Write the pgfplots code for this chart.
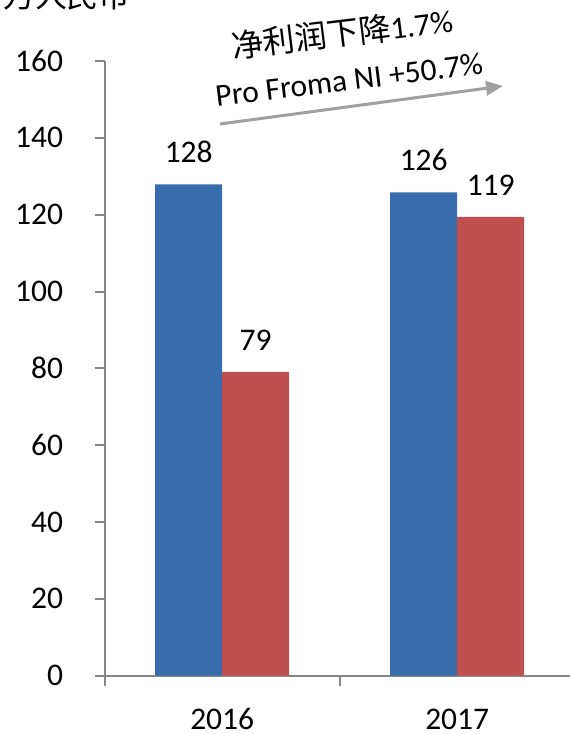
\documentclass[border=0pt]{standalone}
\usepackage{pgfplots}
\pgfplotsset{compat=1.18}
\usepackage{fontspec}
\setmainfont{Carlito}
\newfontfamily\cjk{Noto Sans CJK SC}
\usetikzlibrary{arrows.meta}
\definecolor{barblue}{HTML}{376CAD}
\definecolor{barred}{HTML}{C0504D}
\definecolor{axgray}{HTML}{868686}
\definecolor{arrgray}{HTML}{A0A0A0}
\begin{document}
\begin{tikzpicture}
\useasboundingbox (0pt,0pt) rectangle (570pt,734pt);
\clip (0pt,0pt) rectangle (570pt,734pt);
\begin{axis}[
  at={(104.7pt,58.3pt)}, anchor=south west,
  scale only axis, width=465.3pt, height=614.7pt,
  xmin=-0.5, xmax=1.48, ymin=0, ymax=160,
  enlargelimits=false, clip=false,
  axis x line*=bottom, axis y line*=left,
  axis line style={axgray, line width=2pt, -},
  ytick={0,20,...,160},
  xtick={-0.5,0.5,1.5}, xticklabels={},
  major tick length=10pt,
  tick align=outside,
  tick style={axgray, line width=2pt},
  extra x ticks={0,1},
  extra x tick labels={2016,2017},
  extra x tick style={major tick length=0pt, grid=none},
  /pgf/number format/assume math mode=true,
  ticklabel style={font=\fontsize{31.5}{38}\selectfont},
  yticklabel style={anchor=east, inner sep=0pt, xshift=-31.4pt},
  xticklabel style={anchor=north, inner sep=0pt, yshift=-32.8pt},
  ybar, bar width=67pt,
  point meta=explicit symbolic,
  nodes near coords,
  every node near coord/.append style={anchor=south, inner sep=0pt, yshift=21pt, font=\fontsize{31.5}{38}\selectfont, text=black},
]
\addplot[fill=barblue, draw=none, bar shift=-33.5pt] coordinates {(0,127.9) [128] (1,125.8) [126]};
\addplot[fill=barred, draw=none, bar shift=33.5pt] coordinates {(0,79.1) [79] (1,119.4) [119]};
\end{axis}
\node[font=\cjk\fontsize{32}{38}\selectfont] at (67pt,739pt) {万人民币};
\node[rotate=7, inner sep=0pt] at (342pt,701pt) {\fontsize{31.5}{38}\selectfont{\cjk\fontsize{32}{38}\selectfont 净利润下降}1.7\%};
\node[rotate=7, inner sep=0pt] at (349pt,654pt) {\fontsize{31.5}{38}\selectfont Pro Froma NI +50.7\%};
\draw[arrgray, line width=3pt, -{Triangle[length=17pt,width=14pt]}] (220pt,610pt) -- (503pt,648pt);
\end{tikzpicture}
\end{document}
